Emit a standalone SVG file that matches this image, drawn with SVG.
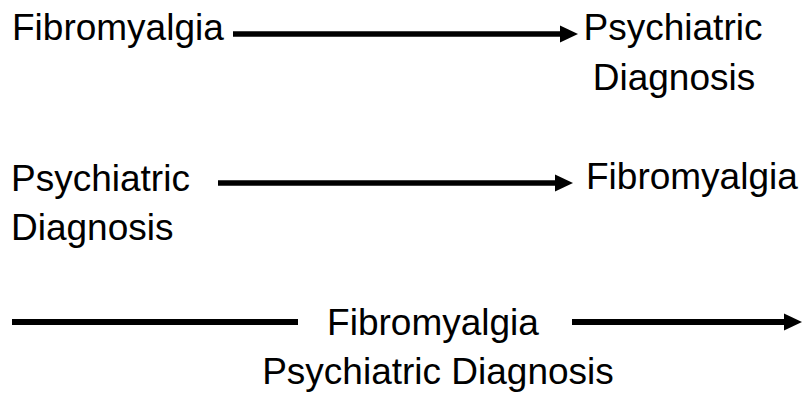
<svg xmlns="http://www.w3.org/2000/svg" width="802" height="395" viewBox="0 0 802 395">
<style>
text { font-family: "Liberation Sans", Arial, sans-serif; font-size: 37px; fill: #000; }
.c { text-anchor: middle; }
.ln { stroke: #000; stroke-width: 5.5; fill: none; }
.thick { stroke-width: 6; }
</style>
<defs>
<marker id="ah" markerUnits="userSpaceOnUse" markerWidth="19" markerHeight="18" refX="0" refY="8.5" orient="auto" overflow="visible">
<path d="M0,0 L18,8.5 L0,17 Z" fill="#000"/>
</marker>
</defs>
<rect width="802" height="395" fill="#fff"/>
<g id="connectors">
<line class="ln" x1="233" y1="34" x2="560" y2="34" marker-end="url(#ah)"/>
<line class="ln" x1="218" y1="183" x2="555" y2="183" marker-end="url(#ah)"/>
<line class="ln thick" x1="12" y1="322" x2="298" y2="322"/>
<line class="ln thick" x1="572" y1="322" x2="784" y2="322" marker-end="url(#ah)"/>
</g>
<g id="fibro1"><text x="12" y="40">Fibromyalgia</text></g>
<g id="psych1"><text class="c" x="673" y="40">Psychiatric</text><text class="c" x="674" y="90">Diagnosis</text></g>
<g id="psych2"><text x="11" y="191">Psychiatric</text><text x="11" y="240">Diagnosis</text></g>
<g id="fibro2"><text x="586" y="189">Fibromyalgia</text></g>
<g id="fibro3"><text class="c" x="433" y="335">Fibromyalgia</text></g>
<g id="psych3"><text class="c" x="438" y="384">Psychiatric Diagnosis</text></g>
</svg>
